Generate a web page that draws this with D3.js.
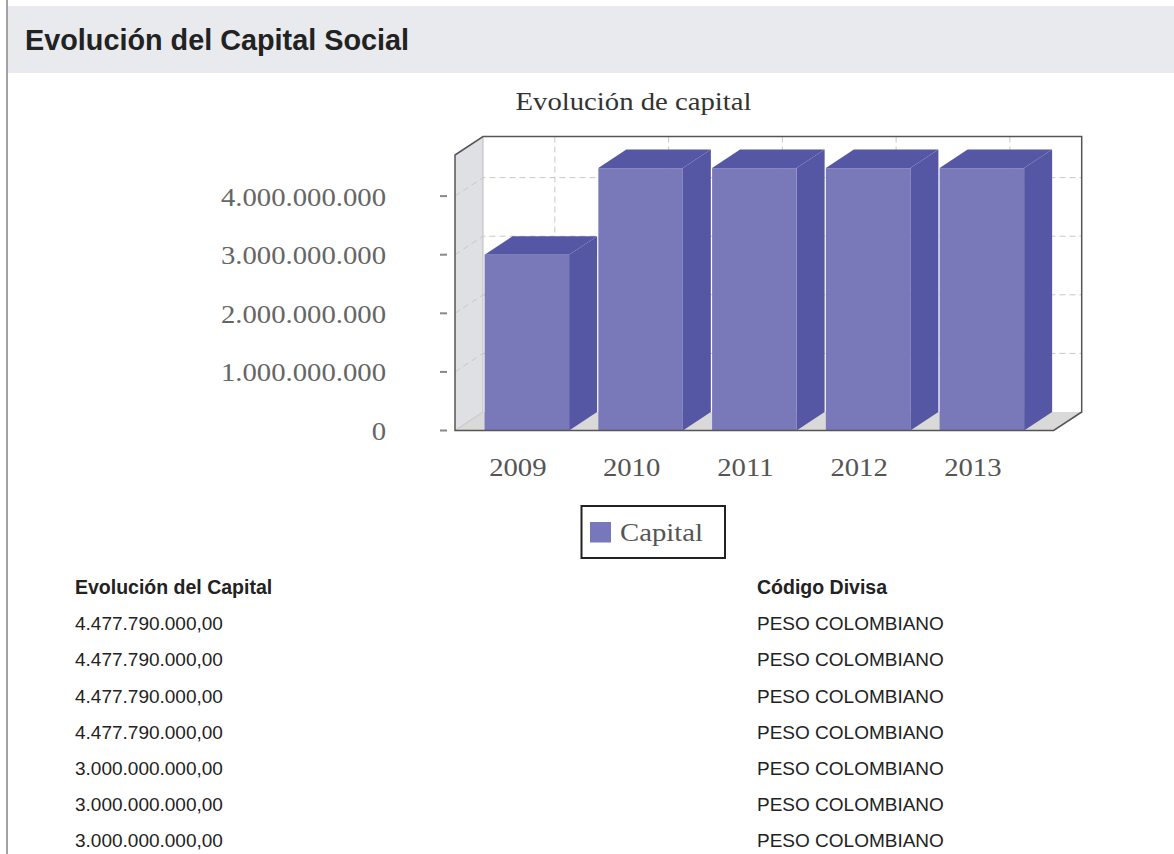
<!DOCTYPE html>
<html>
<head>
<meta charset="utf-8">
<script src="https://cdn.jsdelivr.net/npm/d3@7"></script>
<style>
  body { margin:0; background:#fff; }
</style>
</head>
<body>
<div id="page"></div>
<script>
// datos
var years = ["2009","2010","2011","2012","2013"];
var capital = [3000000000, 4477790000, 4477790000, 4477790000, 4477790000];
var tableCapital = [4477790000, 4477790000, 4477790000, 4477790000, 3000000000, 3000000000, 3000000000];
var tableDivisa = ["PESO COLOMBIANO","PESO COLOMBIANO","PESO COLOMBIANO","PESO COLOMBIANO","PESO COLOMBIANO","PESO COLOMBIANO","PESO COLOMBIANO"];
var seriesName = "Capital";

var W = 1174, H = 854;
var serif = "'Liberation Serif','Times New Roman',serif";
var sans = "'Liberation Sans',Arial,sans-serif";
var sx = 1.105; // texto del grafico algo ensanchado

var es = d3.formatLocale({decimal:",", thousands:".", grouping:[3], currency:["$",""]});
var fmtTick = es.format(",.0f");
var fmtTable = es.format(",.2f");

var svg = d3.select("#page").append("svg")
  .attr("width", W).attr("height", H)
  .style("display","block");

// cabecera
svg.append("rect").attr("x",8).attr("y",6).attr("width",W-8).attr("height",67).attr("fill","#e8eaed");
svg.append("line").attr("x1",7).attr("y1",0).attr("x2",7).attr("y2",H)
  .attr("stroke","#a3a3a3").attr("stroke-width",2);
svg.append("text").attr("x",25).attr("y",50)
  .attr("font-family",sans).attr("font-weight","bold").attr("font-size",28.8)
  .attr("fill","#222").text("Evolución del Capital Social");

function stext(x, y, txt, size, anchor, color){
  return svg.append("text")
    .attr("transform","translate("+x+","+y+") scale("+sx+",1)")
    .attr("font-family",serif).attr("font-size",size)
    .attr("text-anchor",anchor).attr("fill",color).text(txt);
}

stext(633.5, 110, "Evolución de capital", 26, "middle", "#333");

// area 3D
var dx = 28, dy = 18.5;
var pL = 455, pR = 1081.7 - dx, pB = 430.5, pT = 155;

var x = d3.scaleBand().domain(years).range([pL, pR])
  .paddingInner(0.257).paddingOuter(0.26);
var y = d3.scaleLinear().domain([0, d3.max(capital)*1.05]).range([pB, pT]);

var g = svg.append("g");

// pared trasera
g.append("rect").attr("x",pL+dx).attr("y",pT-dy)
  .attr("width",pR-pL).attr("height",pB-pT)
  .attr("fill","#fff");
// pared lateral
g.append("path")
  .attr("d", d3.line()([[pL,pB],[pL,pT],[pL+dx,pT-dy],[pL+dx,pB-dy]]))
  .attr("fill","#dfe0e3");
// suelo
g.append("path")
  .attr("d", d3.line()([[pL,pB],[pL+dx,pB-dy],[pR+dx,pB-dy],[pR,pB]]))
  .attr("fill","#d9d9d9");
g.append("line").attr("x1",pL).attr("y1",pB).attr("x2",pL+dx).attr("y2",pB-dy)
  .attr("stroke","#c4c4c4");
g.append("line").attr("x1",pL+dx).attr("y1",pT-dy).attr("x2",pL+dx).attr("y2",pB-dy)
  .attr("stroke","#bdbdbd");

var ticks = y.ticks(5);
var grid = ticks.filter(function(t){ return t > 0; });

// rejilla
g.selectAll(".gh").data(grid).enter().append("path")
  .attr("d", function(t){ var yy = y(t);
    return d3.line()([[pL,yy],[pL+dx,yy-dy],[pR+dx,yy-dy]]); })
  .attr("fill","none").attr("stroke","#c8c8c8").attr("stroke-dasharray","6,4");
g.selectAll(".gv").data(years).enter().append("line")
  .attr("x1",function(d){ return x(d)+x.bandwidth()/2+dx; })
  .attr("x2",function(d){ return x(d)+x.bandwidth()/2+dx; })
  .attr("y1",pT-dy).attr("y2",pB-dy)
  .attr("stroke","#c8c8c8").attr("stroke-dasharray","6,4");

// barras
var front = "#7979b9", dark = "#5657a4";
years.forEach(function(yr, i){
  var x0 = x(yr), x1 = x0 + x.bandwidth(), yv = y(capital[i]);
  g.append("path")
    .attr("d", d3.line()([[x1,yv],[x1+dx,yv-dy],[x1+dx,pB-dy],[x1,pB]]))
    .attr("fill",dark);
  g.append("path")
    .attr("d", d3.line()([[x0,yv],[x0+dx,yv-dy],[x1+dx,yv-dy],[x1,yv]]))
    .attr("fill",dark);
  g.append("rect").attr("x",x0).attr("y",yv)
    .attr("width",x.bandwidth()).attr("height",pB-yv)
    .attr("fill",front);
});

// contorno
g.append("path")
  .attr("d", d3.line()([[pL,pT],[pL+dx,pT-dy],[pR+dx,pT-dy],[pR+dx,pB-dy],[pR,pB],[pL,pB]]) + "Z")
  .attr("fill","none").attr("stroke","#555").attr("stroke-width",1.5);

// eje Y
ticks.forEach(function(t){
  var yy = y(t);
  svg.append("line").attr("x1",440).attr("x2",447).attr("y1",yy).attr("y2",yy)
    .attr("stroke","#888").attr("stroke-width",2);
  stext(386, yy+9.5, fmtTick(t), 26, "end", "#666");
});

// eje X
years.forEach(function(yr){
  stext(x(yr)+x.bandwidth()/2-9, 476, yr, 26, "middle", "#555");
});

// leyenda
svg.append("rect").attr("x",581.5).attr("y",506).attr("width",143.5).attr("height",52)
  .attr("fill","#fff").attr("stroke","#222").attr("stroke-width",2);
svg.append("rect").attr("x",590).attr("y",522).attr("width",21).attr("height",20.5).attr("fill","#7777bb");
stext(620, 541, seriesName, 26, "start", "#555");

// tabla
var c1 = 75, c2 = 757, rowH = 36.2, y0 = 594;
svg.append("text").attr("x",c1).attr("y",y0).attr("font-family",sans).attr("font-weight","bold")
  .attr("font-size",19.5).attr("fill","#222").text("Evolución del Capital");
svg.append("text").attr("x",c2).attr("y",y0).attr("font-family",sans).attr("font-weight","bold")
  .attr("font-size",19.5).attr("fill","#222").text("Código Divisa");

tableCapital.forEach(function(v, i){
  var yy = y0 + rowH*(i+1);
  svg.append("text").attr("x",c1).attr("y",yy).attr("font-family",sans)
    .attr("font-size",19).attr("fill","#222").text(fmtTable(v));
  svg.append("text").attr("x",c2).attr("y",yy).attr("font-family",sans)
    .attr("font-size",19).attr("fill","#222").text(tableDivisa[i]);
});
</script>
</body>
</html>
